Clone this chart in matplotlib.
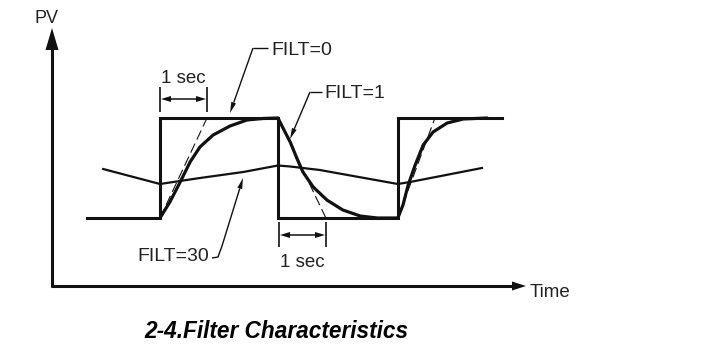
import matplotlib
matplotlib.use("Agg")
import matplotlib.pyplot as plt
import numpy as np

# ---------------- data (time in s, PV normalised 0..1) ----------------
filt0_t = [-1.55, 0.0, 0.0, 2.51, 2.51, 5.06, 5.06, 7.28]
filt0_pv = [0, 0, 1, 1, 0, 0, 1, 1]

filt1_t = [0.0, 0.21, 0.43, 0.64, 0.85, 1.13, 1.49, 1.85, 2.19, 2.51,
           2.66, 2.77, 2.91, 3.04, 3.26, 3.55, 3.89, 4.26, 4.62, 5.06,
           5.17, 5.28, 5.43, 5.60, 5.81, 6.11, 6.45, 6.96]
filt1_pv = [0.0, 0.16, 0.36, 0.56, 0.71, 0.83, 0.92, 0.98, 0.995, 1.0,
            0.86, 0.76, 0.60, 0.46, 0.31, 0.18, 0.08, 0.02, 0.0, 0.0,
            0.13, 0.33, 0.53, 0.73, 0.86, 0.95, 0.99, 1.0]

filt30_t = [-1.21, 0.0, 0.85, 1.77, 2.51, 2.77, 3.40, 4.11, 5.06, 5.32, 6.85]
filt30_pv = [0.49, 0.34, 0.40, 0.46, 0.525, 0.515, 0.48, 0.42, 0.34, 0.36, 0.50]

tangent_t = [[0.0, 1.0], [2.51, 3.53], [5.06, 5.85]]
tangent_pv = [[0, 1], [1, 0], [0, 1]]

labels = ["FILT=0", "FILT=1", "FILT=30"]
span_label = "1 sec"
axis_labels = ["PV", "Time"]
caption = "2-4.Filter Characteristics"

# ---------------- layout helpers (pixel -> data) ----------------
X0, SX, Y0, SY = 160.0, 47.0, 218.0, 100.0
W, H = 707, 345


def X(px):
    return (px - X0) / SX


def Y(py):
    return (Y0 - py) / SY


INK = "#111111"
TXT = "#222222"

fig = plt.figure(figsize=(W / 100, H / 100), dpi=100)
ax = fig.add_axes([0, 0, 1, 1])
ax.set_xlim(X(0), X(W))
ax.set_ylim(Y(H), Y(0))
ax.axis("off")


def head(tip, tail, length, width, color=INK):
    tip = np.array(tip, float)
    tail = np.array(tail, float)
    d = tip - tail
    d /= np.hypot(*d)
    p = np.array([-d[1], d[0]])
    base = tip - length * d
    pts = [tip, base + p * width / 2, base - p * width / 2]
    ax.fill([X(q[0]) for q in pts], [Y(q[1]) for q in pts], color=color, lw=0, zorder=5)
    return base


def pline(pts, lw, **kw):
    ax.plot([X(p[0]) for p in pts], [Y(p[1]) for p in pts], color=INK, lw=lw,
            solid_capstyle="butt", **kw)


# ---------------- axes with arrows ----------------
pline([(52, 287), (52, 45)], 2.2)
head((52, 28), (52, 287), 22, 13)
pline([(51, 286), (515, 286)], 2.2)
head((526, 286), (52, 286), 14, 9)
ax.text(X(47), Y(23), axis_labels[0], ha="center", va="baseline",
        fontsize=13, color=TXT, family="Liberation Sans")
ax.text(X(530), Y(297), axis_labels[1], ha="left", va="baseline",
        fontsize=13.5, color=TXT, family="Liberation Sans")

# ---------------- curves ----------------
ax.plot(filt0_t, filt0_pv, color=INK, lw=2.2, solid_joinstyle="miter", zorder=3)
ax.plot(filt1_t, filt1_pv, color=INK, lw=2.3, solid_joinstyle="round",
        solid_capstyle="round", zorder=3)
ax.plot(filt30_t, filt30_pv, color=INK, lw=1.6, solid_joinstyle="round", zorder=3)
for tt, pp in zip(tangent_t, tangent_pv):
    ax.plot(tt, pp, color=INK, lw=0.8, dashes=(9, 4), zorder=2)

# ---------------- annotations ----------------
# FILT=0
pline([(268, 48), (253, 48)], 1.0)
b = head((230, 113), (253, 48), 11, 5)
pline([(253, 48), tuple(b)], 1.0)
ax.text(X(271), Y(55), labels[0], ha="left", va="baseline", fontsize=14,
        color=TXT, family="Liberation Sans")
# FILT=1
pline([(322, 92), (310, 92)], 1.0)
b = head((290, 139), (310, 92), 11, 5)
pline([(310, 92), tuple(b)], 1.0)
ax.text(X(324), Y(98), labels[1], ha="left", va="baseline", fontsize=14,
        color=TXT, family="Liberation Sans")
# FILT=30
b = head((243, 178), (222, 246), 11, 5)
pline([(212, 258), (218, 257), (222, 246), tuple(b)], 1.0)
ax.text(X(209), Y(261), labels[2], ha="right", va="baseline", fontsize=14,
        color=TXT, family="Liberation Sans")

# 1 sec brackets
for (xa, xb, yt0, yt1, ya, ytext) in [(160, 207, 87, 112, 99, 83),
                                      (279, 326, 222, 247, 235, 267)]:
    pline([(xa, yt0), (xa, yt1)], 1.2)
    pline([(xb, yt0), (xb, yt1)], 1.2)
    b1 = head((xa + 1, ya), (xb, ya), 10, 6)
    b2 = head((xb - 1, ya), (xa, ya), 10, 6)
    pline([tuple(b1), tuple(b2)], 1.1)
    ax.text(X((xa + xb) / 2), Y(ytext), span_label, ha="center", va="baseline",
            fontsize=13.5, color=TXT, family="Liberation Sans")

# caption
ax.text(X(276), Y(338), caption, ha="center", va="baseline", fontsize=16.3,
        fontweight="bold", fontstyle="italic", color="black",
        family="Liberation Sans")

fig.savefig("out.png", dpi=100)
